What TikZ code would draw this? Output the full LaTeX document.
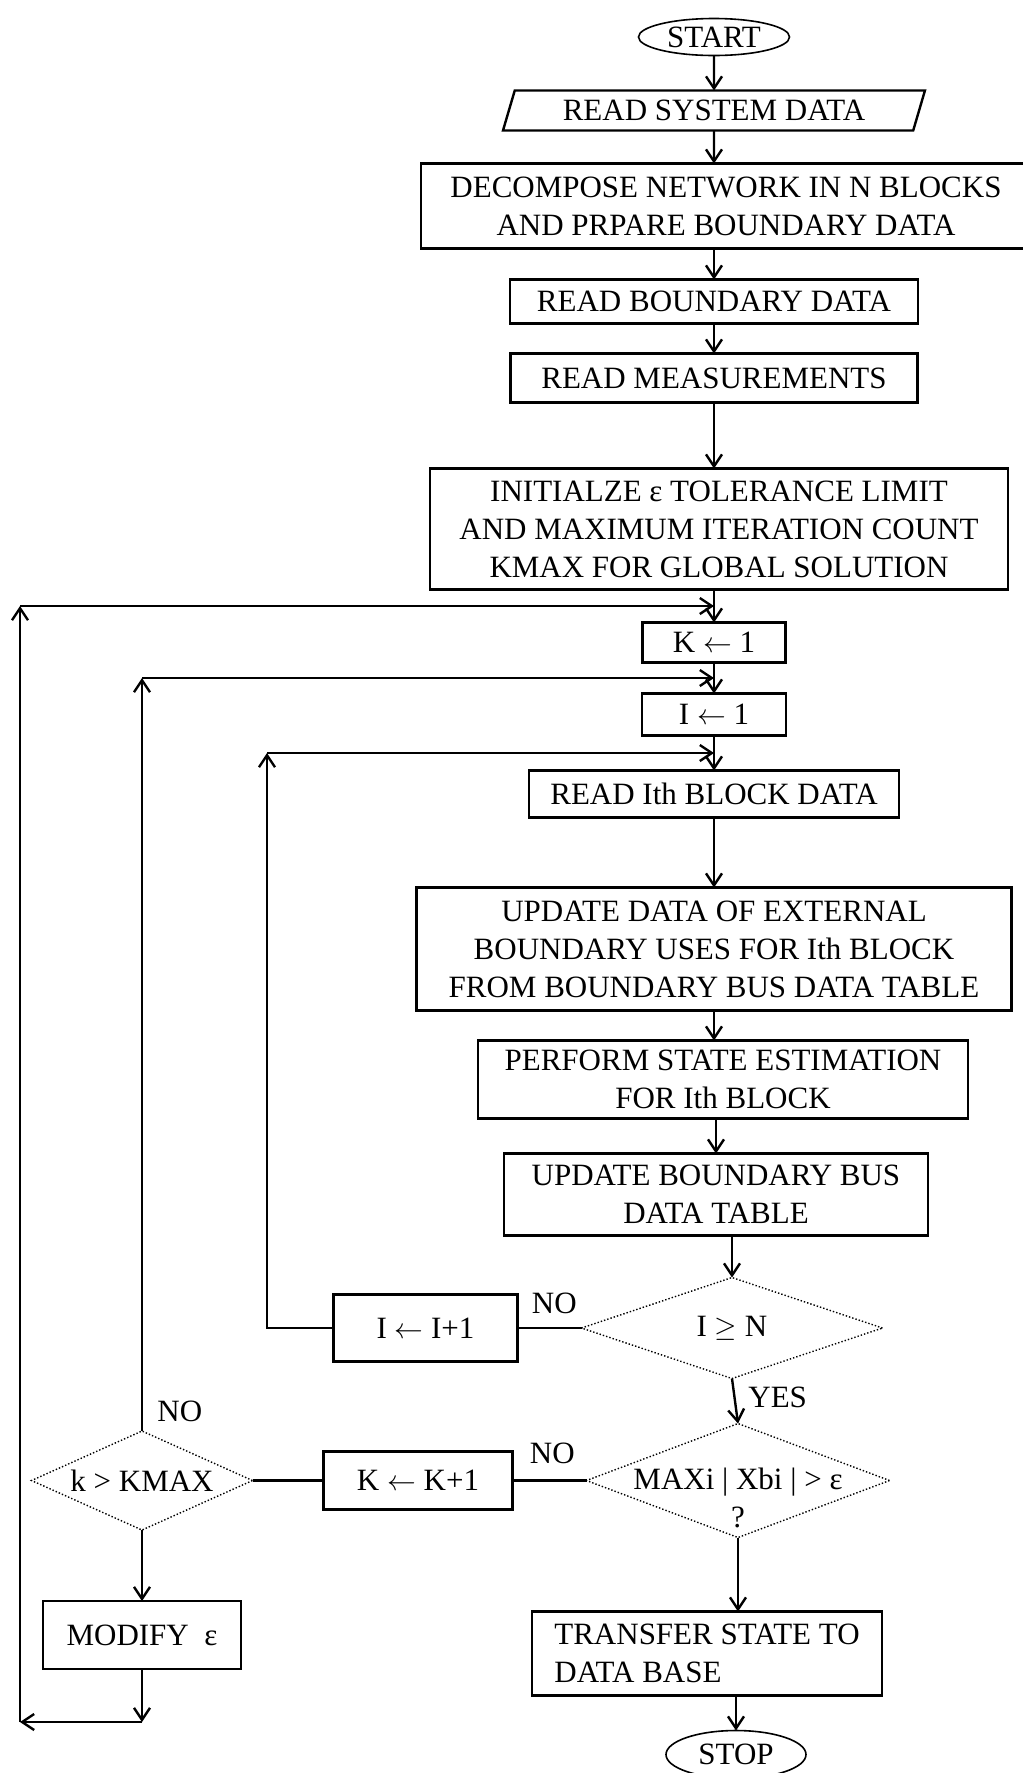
\documentclass[tikz,border=0pt]{standalone}
\usepackage{fontspec}
\setmainfont{Liberation Serif}
\usetikzlibrary{arrows.meta,positioning,shapes.geometric,calc}

\begin{document}
\begin{tikzpicture}[
  x=0.5pt, y=-0.5pt,
  font=\fontsize{15.5}{19}\selectfont,
  process/.style={
    draw,
    line width=1.2pt,
    inner xsep=3pt,
    inner ysep=1pt,
    outer sep=0pt,
    align=center
  },
  terminal/.style={
    draw,
    ellipse,
    line width=0.8pt,
    inner sep=0pt,
    outer sep=0pt
  },
  io/.style={
    draw,
    trapezium,
    trapezium left angle=70,
    trapezium right angle=110,
    trapezium stretches=true,
    line width=1.2pt,
    inner sep=1pt,
    outer sep=0pt
  },
  decision/.style={
    draw,
    diamond,
    densely dotted,
    line width=0.7pt,
    inner sep=0pt,
    outer sep=0pt
  },
  answer/.style={anchor=base west,inner sep=0pt},
  link/.style={line width=1.2pt},
  arrow/.style={-{Straight Barb[length=6pt,width=8pt]},line width=1.2pt}
]
  \useasboundingbox (0,0) rectangle (1023,1773);
  \node[terminal,minimum width=75.5pt,minimum height=18.5pt] (start) at (714,37) {START};
  \node[io,minimum width=211.5pt,minimum height=20pt,below=17.5pt of start] (readsys) {READ SYSTEM DATA};
  \node[process,minimum width=305pt,minimum height=42.5pt,below=16.5pt of readsys,xshift=6pt] (decomp) {DECOMPOSE NETWORK IN N BLOCKS\\AND PRPARE BOUNDARY DATA};
  \node[process,minimum width=204pt,minimum height=22pt,below=15.5pt of decomp,xshift=-6pt] (readbnd) {READ BOUNDARY DATA};
  \node[process,minimum width=203.5pt,minimum height=24.5pt,below=15pt of readbnd] (readmeas) {READ MEASUREMENTS};
  \node[process,minimum width=289pt,minimum height=60.5pt,below=33pt of readmeas,xshift=2.5pt] (init) {INITIALZE ε TOLERANCE LIMIT\\AND MAXIMUM ITERATION COUNT\\KMAX FOR GLOBAL SOLUTION};
  \node[process,minimum width=71.5pt,minimum height=20pt,below=16.5pt of init,xshift=-2.5pt] (setk) {K $\leftarrow$ 1};
  \node[process,minimum width=72pt,minimum height=21pt,below=15.5pt of setk] (seti) {I $\leftarrow$ 1};
  \node[process,minimum width=185pt,minimum height=23.5pt,below=17.5pt of seti] (readblk) {READ Ith BLOCK DATA};
  \node[process,minimum width=297.5pt,minimum height=61.5pt,below=35pt of readblk] (upddata) {UPDATE DATA OF EXTERNAL\\BOUNDARY USES FOR Ith BLOCK\\FROM BOUNDARY BUS DATA TABLE};
  \node[process,minimum width=245pt,minimum height=39pt,below=15pt of upddata,xshift=4.5pt] (perform) {PERFORM STATE ESTIMATION\\FOR Ith BLOCK};
  \node[process,minimum width=212pt,minimum height=41pt,below=17.5pt of perform,xshift=-3.5pt] (updbus) {UPDATE BOUNDARY BUS\\DATA TABLE};
  \node[decision,minimum width=150.5pt,minimum height=50.5pt,below=21pt of updbus,xshift=8pt,
    label={center:I $\geq$ N}] (testi) {};
  \node[decision,minimum width=151.5pt,minimum height=57pt,below=22.5pt of testi,xshift=3pt,
    label={[align=center,yshift=-8.5pt]center:MAXi | Xbi | > ε\\?}] (testerr) {};
  \node[process,align=left,minimum width=175pt,minimum height=42pt,below=37pt of testerr,xshift=-15.5pt] (transfer) {TRANSFER STATE TO\\DATA BASE};
  \node[terminal,minimum width=70pt,minimum height=24pt,below=17.5pt of transfer,xshift=14.5pt] (stop) {STOP};
  \node[process,minimum width=92pt,minimum height=33.5pt,left=32pt of testi] (inci) {I $\leftarrow$ I+1};
  \node[process,minimum width=94.5pt,minimum height=29pt,left=37pt of testerr] (inck) {K $\leftarrow$ K+1};
  \node[decision,minimum width=110.5pt,minimum height=49.5pt,left=35.5pt of inck,
    label={center:k > KMAX}] (testk) {};
  \node[process,minimum width=99pt,minimum height=34pt,below=35.5pt of testk] (modify) {MODIFY\ \ ε};

  \coordinate (jk) at ($(init.south -| setk.north)!0.5!(setk.north)$);
  \coordinate (ji) at ($(setk.south)!0.5!(seti.north)$);
  \coordinate (jb) at ($(seti.south)!0.5!(readblk.north)$);
  \coordinate (xouter) at (20,0);
  \coordinate (xinner) at (267,0);
  \coordinate (cb) at (jb -| xinner);
  \coordinate (ci) at (ji -| testk.north);
  \coordinate (cmod) at ([yshift=-26.5pt]modify.south);
  \coordinate (cbl) at (cmod -| xouter);
  \coordinate (ck) at (jk -| xouter);

  \draw[arrow] (start) -- (readsys);
  \draw[arrow] (readsys) -- (readsys |- decomp.north);
  \draw[arrow] (decomp.south -| readbnd.north) -- (readbnd);
  \draw[arrow] (readbnd) -- (readmeas);
  \draw[arrow] (readmeas) -- (readmeas |- init.north);
  \draw[arrow] (init.south -| setk.north) -- (setk);
  \draw[arrow] (setk) -- (seti);
  \draw[arrow] (seti) -- (readblk);
  \draw[arrow] (readblk) -- (upddata);
  \draw[arrow] (upddata) -- (upddata |- perform.north);
  \draw[arrow] (perform.south -| updbus.north) -- (updbus);
  \draw[arrow] (updbus.south -| testi.north) -- (testi.north);
  \draw[arrow] (testi.south) -- (testerr.north);
  \draw[arrow] (testerr.south) -- (testerr.south |- transfer.north);
  \draw[arrow] (transfer.south -| stop.north) -- (stop.north);

  \draw[link] (testi.west) -- (inci.east);
  \draw[arrow] (inci.west) -| (cb);
  \draw[arrow] (cb) -- (jb);
  \draw[link] (testerr.west) -- (inck.east);
  \draw[link] (inck.west) -- (testk.east);
  \draw[arrow] (testk.north) -- (ci);
  \draw[arrow] (ci) -- (ji);
  \draw[arrow] (testk.south) -- (modify.north);
  \draw[arrow] (modify.south) -- (cmod);
  \draw[arrow] (cmod) -- (cbl);
  \draw[arrow] (cbl) -- (ck);
  \draw[arrow] (ck) -- (jk);

  \node[answer] (noi) at ([xshift=7pt,yshift=7.5pt]inci.east) {NO};
  \node[answer] (nok) at ([xshift=8.5pt,yshift=8.5pt]inck.east) {NO};
  \node[answer] (nomax) at ([xshift=7.5pt,yshift=5pt]testk.north) {NO};
  \node[answer] (yes) at ([xshift=8pt,yshift=-14.5pt]testi.south) {YES};
\end{tikzpicture}
\end{document}
